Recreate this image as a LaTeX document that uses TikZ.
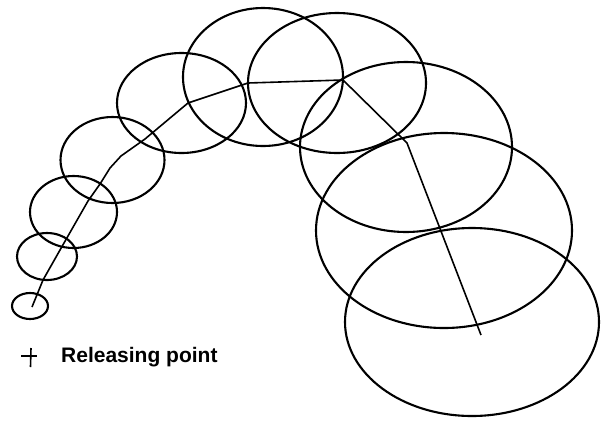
\documentclass[tikz,border=0pt]{standalone}
\usepackage{fontspec}
\setmainfont{Liberation Sans}
\begin{document}
\begin{tikzpicture}[x=1pt,y=-1pt,
  bubble/.style={line width=2.1pt, draw=black},
  trackline/.style={line width=1.6pt, draw=black, line join=round},
  marker/.style={line width=1.6pt, draw=black},
  label/.style={font=\bfseries\fontsize{21}{25}\selectfont, inner sep=0pt, anchor=base west}]
\useasboundingbox (0,0) rectangle (601,421);
% ellipses
\draw[bubble] (30,306) ellipse [x radius=18, y radius=13];
\draw[bubble] (47,256.5) ellipse [x radius=30, y radius=23.5];
\draw[bubble] (73.5,212) ellipse [x radius=43.5, y radius=36];
\draw[bubble] (112.5,160) ellipse [x radius=52, y radius=43];
\draw[bubble] (181.5,103) ellipse [x radius=64.5, y radius=50];
\draw[bubble] (263,77) ellipse [x radius=80, y radius=69];
\draw[bubble] (337,83) ellipse [x radius=89, y radius=70];
\draw[bubble] (406,147) ellipse [x radius=106, y radius=85];
\draw[bubble] (444,230.5) ellipse [x radius=128, y radius=97.5];
\draw[bubble] (472,322) ellipse [x radius=127, y radius=94];
% track
\coordinate (p0) at (32,307);
\coordinate (p1) at (43,280);
\coordinate (p2) at (60,250);
\coordinate (p3) at (88,201);
\coordinate (p4) at (100,184);
\coordinate (p5) at (110,168);
\coordinate (p6) at (121,156);
\coordinate (p6b) at (145,139);
\coordinate (p7) at (188,103);
\coordinate (p8) at (248,83);
\coordinate (p9) at (343,80);
\coordinate (p10) at (407,143);
\coordinate (p11) at (481,335);
\draw[trackline] (p0) -- (p1) -- (p2) -- (p3) -- (p4) -- (p5) -- (p6) -- (p6b) -- (p7) -- (p8) -- (p9) -- (p10) -- (p11);
% releasing point marker
\coordinate (mh1) at (21,356);
\coordinate (mh2) at (37,356);
\coordinate (mv1) at (31,348);
\coordinate (mv2) at (30.5,367);
\draw[marker] (mh1) -- (mh2);
\draw[marker] (mv1) -- (mv2);
\node[label] (rp) at (61,362) {Releasing point};
\end{tikzpicture}
\end{document}
